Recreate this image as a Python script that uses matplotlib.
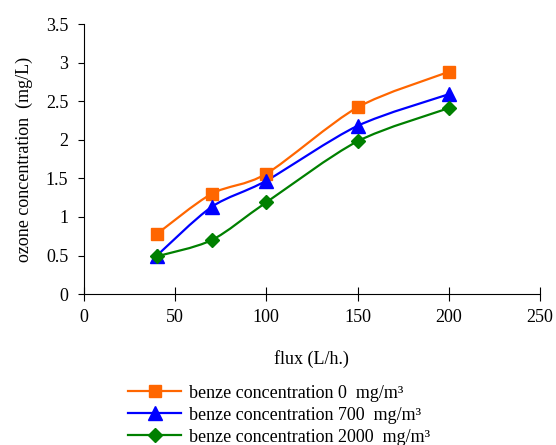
import numpy as np
import matplotlib.pyplot as plt
from matplotlib.path import Path
from matplotlib.patches import PathPatch
from matplotlib.lines import Line2D

plt.rcParams['font.family'] = ['Liberation Serif', 'DejaVu Serif']

flux = [40, 70, 100, 150, 200]
ozone_0 = [0.78, 1.30, 1.56, 2.42, 2.88]
ozone_700 = [0.50, 1.13, 1.47, 2.18, 2.59]
ozone_2000 = [0.49, 0.70, 1.19, 1.98, 2.41]

labels = ['benze concentration 0  mg/m³',
          'benze concentration 700  mg/m³',
          'benze concentration 2000  mg/m³']
colors = ['#FF6600', '#0000FF', '#008000']
markers = ['s', '^', 'D']
msizes = [8.5, 10, 7.5]


def smooth_path(x, y):
    # Excel-like smoothed line: cubic bezier through the points
    pts = np.column_stack([x, y]).astype(float)
    n = len(pts)
    verts = [pts[0]]
    codes = [Path.MOVETO]
    for i in range(n - 1):
        p0 = pts[i - 1] if i > 0 else pts[i]
        p1 = pts[i]
        p2 = pts[i + 1]
        p3 = pts[i + 2] if i + 2 < n else pts[i + 1]
        c1 = p1 + (p2 - p0) / 7
        c2 = p2 - (p3 - p1) / 7
        verts += [c1, c2, p2]
        codes += [Path.CURVE4] * 3
    return Path(verts, codes)


fig = plt.figure(figsize=(5.56, 4.45), dpi=100)
ax = fig.add_axes([0.151, 0.339, 0.820, 0.607])

handles = []
for ys, c, m, ms, lab in zip([ozone_0, ozone_700, ozone_2000], colors, markers, msizes, labels):
    ax.add_patch(PathPatch(smooth_path(flux, ys), facecolor='none', edgecolor=c, lw=1.6))
    ax.plot(flux, ys, linestyle='none', marker=m, color=c, markersize=ms)
    handles.append(Line2D([], [], color=c, lw=1.6, marker=m, markersize=ms, label=lab))

ax.set_xlim(0, 250)
ax.set_ylim(0, 3.5)
ax.set_xticks([0, 50, 100, 150, 200, 250])
ax.set_yticks([0, 0.5, 1, 1.5, 2, 2.5, 3, 3.5])
ax.set_yticklabels(['0', '0.5', '1', '1.5', '2', '2.5', '3', '3.5'])
ax.spines['top'].set_visible(False)
ax.spines['right'].set_visible(False)
ax.tick_params(axis='x', direction='inout', length=10, labelsize=13, pad=6)
ax.tick_params(axis='y', direction='out', length=4.3, labelsize=13, pad=7)
ax.set_xlabel('flux (L/h.)', fontsize=13, labelpad=17)
ax.set_ylabel('ozone concentration  (mg/L)', fontsize=13, labelpad=9)

fig.legend(handles=handles, loc='upper left', bbox_to_anchor=(0.218, 0.152),
           frameon=False, fontsize=13, handlelength=2.9, handletextpad=0.45,
           labelspacing=0.28, borderaxespad=0)

fig.savefig('out.png', dpi=100)
